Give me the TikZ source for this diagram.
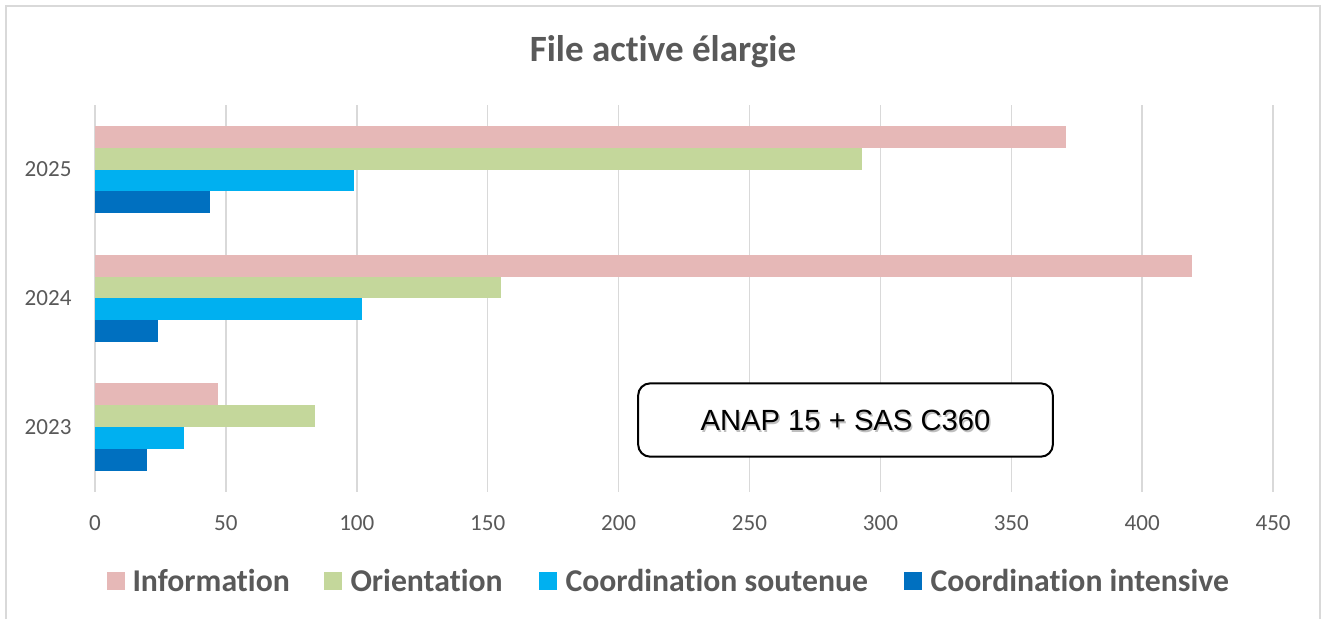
\documentclass[tikz,border=0pt]{standalone}
\usepackage{fontspec}
\setmainfont{Carlito}[Ligatures=NoCommon]
\newfontfamily\arialfont{Liberation Sans}
\definecolor{txtgray}{HTML}{595959}
\definecolor{gridgray}{HTML}{D9D9D9}
\definecolor{infocol}{HTML}{E6B8B7}
\definecolor{oriecol}{HTML}{C4D79B}
\definecolor{soutcol}{HTML}{00B0F0}
\definecolor{intecol}{HTML}{0070C0}
\begin{document}
\begin{tikzpicture}[x=0.75pt, y=-0.75pt, line width=0.75pt,
  grid/.style={draw=gridgray, line width=1.1pt},
  tick/.style={text=txtgray, inner sep=0, font=\fontsize{17.3}{20}\selectfont},
  legtext/.style={text=txtgray, inner sep=0, anchor=west, font=\fontsize{23.8}{28}\selectfont\bfseries},
  legbox/.style={inner sep=0, minimum size=13.5pt}]
\useasboundingbox (0,0) rectangle (1327,619);
% Cadre
\draw [gridgray, line width=1.1pt] (6,619) -- (6,6) -- (1320,6) -- (1320,619);
% Titre
\node [text=txtgray, font=\fontsize{27.8}{32}\selectfont\bfseries] (titre) at (663,52) {File active élargie};
% Grille
\draw [grid] (95,105) -- (95,492);
\draw [grid] (225.9,105) -- (225.9,492);
\draw [grid] (356.8,105) -- (356.8,492);
\draw [grid] (487.7,105) -- (487.7,492);
\draw [grid] (618.6,105) -- (618.6,492);
\draw [grid] (749.5,105) -- (749.5,492);
\draw [grid] (880.4,105) -- (880.4,492);
\draw [grid] (1011.3,105) -- (1011.3,492);
\draw [grid] (1142.2,105) -- (1142.2,492);
\draw [grid] (1273.1,105) -- (1273.1,492);
% Axe x
\node [tick] (t0)   at (95,523)     {0};
\node [tick] (t50)  at (225.9,523)  {50};
\node [tick] (t100) at (356.8,523)  {100};
\node [tick] (t150) at (487.7,523)  {150};
\node [tick] (t200) at (618.6,523)  {200};
\node [tick] (t250) at (749.5,523)  {250};
\node [tick] (t300) at (880.4,523)  {300};
\node [tick] (t350) at (1011.3,523) {350};
\node [tick] (t400) at (1142.2,523) {400};
\node [tick] (t450) at (1273.1,523) {450};
% Axe y
\node [tick, anchor=east] (a2025) at (72,169) {2025};
\node [tick, anchor=east] (a2024) at (72,298) {2024};
\node [tick, anchor=east] (a2023) at (72,427) {2023};
% ---
% 2025
% ---
\fill [infocol] (95,126) rectangle (1066.3,147.8);
\fill [oriecol] (95,147.8) rectangle (862.1,169.6);
\fill [soutcol] (95,169.6) rectangle (354.2,191.4);
\fill [intecol] (95,191.4) rectangle (210.2,213.2);
% ---
% 2024
% ---
\fill [infocol] (95,254.7) rectangle (1191.9,276.5);
\fill [oriecol] (95,276.5) rectangle (500.8,298.3);
\fill [soutcol] (95,298.3) rectangle (362.0,320.1);
\fill [intecol] (95,320.1) rectangle (157.8,341.9);
% ---
% 2023
% ---
\fill [infocol] (95,383.4) rectangle (218.0,405.2);
\fill [oriecol] (95,405.2) rectangle (314.9,427.0);
\fill [soutcol] (95,427.0) rectangle (184.0,448.8);
\fill [intecol] (95,448.8) rectangle (147.4,470.6);
% Encadre
\node [draw=black, line width=1.5pt, rounded corners=9pt, minimum width=311pt, minimum height=55pt, fill=white] (anap) at (845.5,420) {};
\node [text=black!25, font=\arialfont\fontsize{21.9}{26}\selectfont] (anapombre) at (847,422) {ANAP 15 + SAS C360};
\node [text=black, font=\arialfont\fontsize{21.9}{26}\selectfont] (anaptexte) at (anap.center) {ANAP 15 + SAS C360};
% Legende
\node [legbox, fill=infocol] (cinfo) at (116,581) {};
\node [legtext] (linfo) at (132,580) {Information};
\node [legbox, fill=oriecol] (corie) at (333,581) {};
\node [legtext] (lorie) at (350,580) {Orientation};
\node [legbox, fill=soutcol] (csout) at (548,581) {};
\node [legtext] (lsout) at (565,580) {Coordination soutenue};
\node [legbox, fill=intecol] (cinte) at (913,581) {};
\node [legtext] (linte) at (930,580) {Coordination intensive};
\end{tikzpicture}
\end{document}
